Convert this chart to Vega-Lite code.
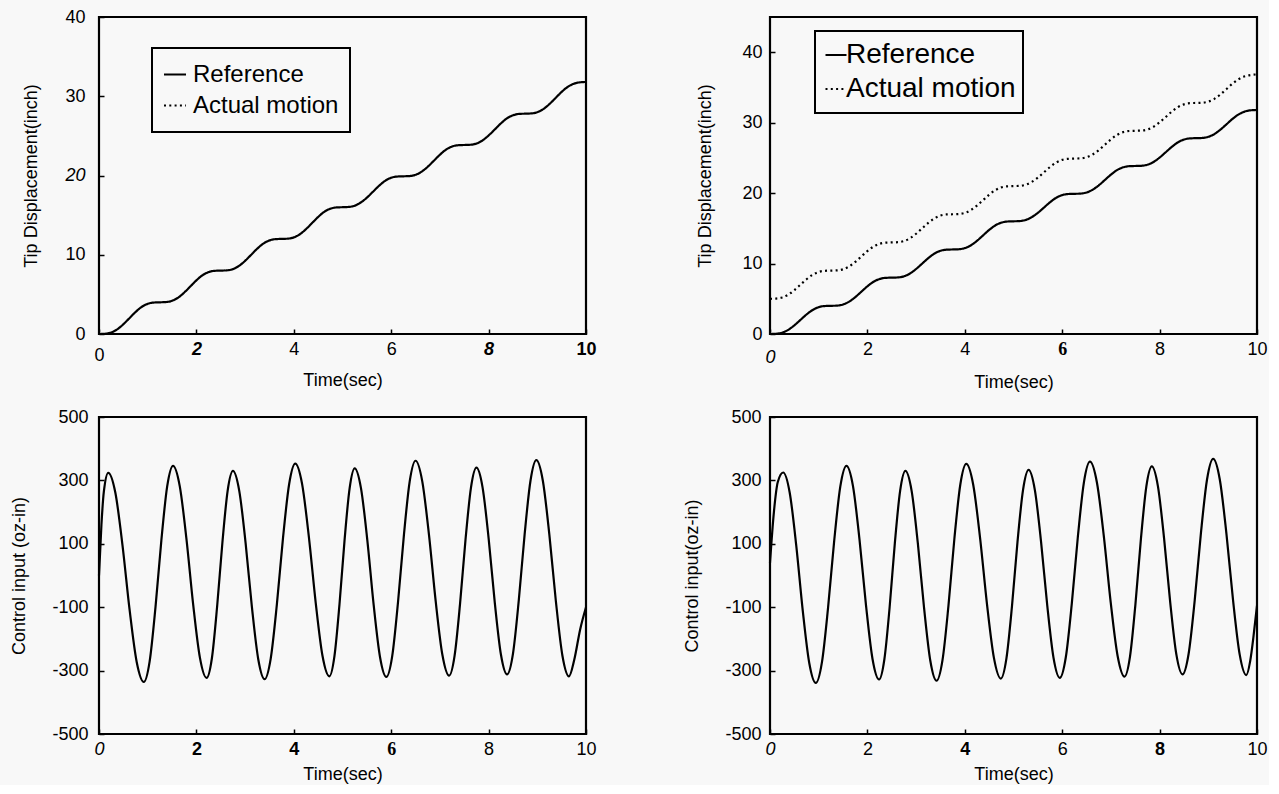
{
  "$schema": "https://vega.github.io/schema/vega-lite/v6.json",
  "background": "#f8f8f8",
  "padding": {"left": 9, "top": 6, "right": 0, "bottom": 0},
  "columns": 2,
  "bounds": "flush",
  "spacing": {"row": 83, "column": 184},
  "datasets": {
    "disp": [
      {"t": 0, "v": 0, "s": "Reference"}, {"t": 0.125, "v": 0.03, "s": "Reference"}, {"t": 0.25, "v": 0.19, "s": "Reference"}, {"t": 0.375, "v": 0.59, "s": "Reference"}, {"t": 0.5, "v": 1.23, "s": "Reference"}, {"t": 0.625, "v": 2.0, "s": "Reference"}, {"t": 0.75, "v": 2.77, "s": "Reference"}, {"t": 0.875, "v": 3.41, "s": "Reference"}, {"t": 1, "v": 3.81, "s": "Reference"}, {"t": 1.125, "v": 3.97, "s": "Reference"},
      {"t": 1.25, "v": 4.0, "s": "Reference"}, {"t": 1.375, "v": 4.03, "s": "Reference"}, {"t": 1.5, "v": 4.19, "s": "Reference"}, {"t": 1.625, "v": 4.59, "s": "Reference"}, {"t": 1.75, "v": 5.23, "s": "Reference"}, {"t": 1.875, "v": 6.0, "s": "Reference"}, {"t": 2, "v": 6.77, "s": "Reference"}, {"t": 2.125, "v": 7.41, "s": "Reference"}, {"t": 2.25, "v": 7.81, "s": "Reference"}, {"t": 2.375, "v": 7.97, "s": "Reference"},
      {"t": 2.5, "v": 8.0, "s": "Reference"}, {"t": 2.625, "v": 8.03, "s": "Reference"}, {"t": 2.75, "v": 8.19, "s": "Reference"}, {"t": 2.875, "v": 8.59, "s": "Reference"}, {"t": 3, "v": 9.23, "s": "Reference"}, {"t": 3.125, "v": 10.0, "s": "Reference"}, {"t": 3.25, "v": 10.77, "s": "Reference"}, {"t": 3.375, "v": 11.41, "s": "Reference"}, {"t": 3.5, "v": 11.81, "s": "Reference"}, {"t": 3.625, "v": 11.97, "s": "Reference"},
      {"t": 3.75, "v": 12.0, "s": "Reference"}, {"t": 3.875, "v": 12.03, "s": "Reference"}, {"t": 4, "v": 12.19, "s": "Reference"}, {"t": 4.125, "v": 12.59, "s": "Reference"}, {"t": 4.25, "v": 13.23, "s": "Reference"}, {"t": 4.375, "v": 14.0, "s": "Reference"}, {"t": 4.5, "v": 14.77, "s": "Reference"}, {"t": 4.625, "v": 15.41, "s": "Reference"}, {"t": 4.75, "v": 15.81, "s": "Reference"}, {"t": 4.875, "v": 15.97, "s": "Reference"},
      {"t": 5, "v": 16.0, "s": "Reference"}, {"t": 5.125, "v": 16.03, "s": "Reference"}, {"t": 5.25, "v": 16.19, "s": "Reference"}, {"t": 5.375, "v": 16.59, "s": "Reference"}, {"t": 5.5, "v": 17.2, "s": "Reference"}, {"t": 5.625, "v": 17.95, "s": "Reference"}, {"t": 5.75, "v": 18.7, "s": "Reference"}, {"t": 5.875, "v": 19.33, "s": "Reference"}, {"t": 6, "v": 19.72, "s": "Reference"}, {"t": 6.125, "v": 19.87, "s": "Reference"},
      {"t": 6.25, "v": 19.9, "s": "Reference"}, {"t": 6.375, "v": 19.93, "s": "Reference"}, {"t": 6.5, "v": 20.09, "s": "Reference"}, {"t": 6.625, "v": 20.48, "s": "Reference"}, {"t": 6.75, "v": 21.1, "s": "Reference"}, {"t": 6.875, "v": 21.86, "s": "Reference"}, {"t": 7, "v": 22.62, "s": "Reference"}, {"t": 7.125, "v": 23.26, "s": "Reference"}, {"t": 7.25, "v": 23.66, "s": "Reference"}, {"t": 7.375, "v": 23.82, "s": "Reference"},
      {"t": 7.5, "v": 23.85, "s": "Reference"}, {"t": 7.625, "v": 23.88, "s": "Reference"}, {"t": 7.75, "v": 24.03, "s": "Reference"}, {"t": 7.875, "v": 24.42, "s": "Reference"}, {"t": 8, "v": 25.05, "s": "Reference"}, {"t": 8.125, "v": 25.8, "s": "Reference"}, {"t": 8.25, "v": 26.56, "s": "Reference"}, {"t": 8.375, "v": 27.2, "s": "Reference"}, {"t": 8.5, "v": 27.6, "s": "Reference"}, {"t": 8.625, "v": 27.77, "s": "Reference"},
      {"t": 8.75, "v": 27.8, "s": "Reference"}, {"t": 8.875, "v": 27.83, "s": "Reference"}, {"t": 9, "v": 27.99, "s": "Reference"}, {"t": 9.125, "v": 28.38, "s": "Reference"}, {"t": 9.25, "v": 29.02, "s": "Reference"}, {"t": 9.375, "v": 29.78, "s": "Reference"}, {"t": 9.5, "v": 30.55, "s": "Reference"}, {"t": 9.625, "v": 31.18, "s": "Reference"}, {"t": 9.75, "v": 31.58, "s": "Reference"}, {"t": 9.875, "v": 31.76, "s": "Reference"},
      {"t": 10, "v": 31.8, "s": "Reference"},
      {"t": 0, "v": 5.0, "s": "Actual motion"}, {"t": 0.125, "v": 5.03, "s": "Actual motion"}, {"t": 0.25, "v": 5.19, "s": "Actual motion"}, {"t": 0.375, "v": 5.59, "s": "Actual motion"}, {"t": 0.5, "v": 6.23, "s": "Actual motion"}, {"t": 0.625, "v": 7.0, "s": "Actual motion"}, {"t": 0.75, "v": 7.77, "s": "Actual motion"}, {"t": 0.875, "v": 8.41, "s": "Actual motion"}, {"t": 1, "v": 8.81, "s": "Actual motion"}, {"t": 1.125, "v": 8.97, "s": "Actual motion"},
      {"t": 1.25, "v": 9.0, "s": "Actual motion"}, {"t": 1.375, "v": 9.03, "s": "Actual motion"}, {"t": 1.5, "v": 9.19, "s": "Actual motion"}, {"t": 1.625, "v": 9.59, "s": "Actual motion"}, {"t": 1.75, "v": 10.23, "s": "Actual motion"}, {"t": 1.875, "v": 11.0, "s": "Actual motion"}, {"t": 2, "v": 11.77, "s": "Actual motion"}, {"t": 2.125, "v": 12.41, "s": "Actual motion"}, {"t": 2.25, "v": 12.81, "s": "Actual motion"}, {"t": 2.375, "v": 12.97, "s": "Actual motion"},
      {"t": 2.5, "v": 13.0, "s": "Actual motion"}, {"t": 2.625, "v": 13.03, "s": "Actual motion"}, {"t": 2.75, "v": 13.19, "s": "Actual motion"}, {"t": 2.875, "v": 13.59, "s": "Actual motion"}, {"t": 3, "v": 14.23, "s": "Actual motion"}, {"t": 3.125, "v": 15.0, "s": "Actual motion"}, {"t": 3.25, "v": 15.77, "s": "Actual motion"}, {"t": 3.375, "v": 16.41, "s": "Actual motion"}, {"t": 3.5, "v": 16.81, "s": "Actual motion"}, {"t": 3.625, "v": 16.97, "s": "Actual motion"},
      {"t": 3.75, "v": 17.0, "s": "Actual motion"}, {"t": 3.875, "v": 17.03, "s": "Actual motion"}, {"t": 4, "v": 17.19, "s": "Actual motion"}, {"t": 4.125, "v": 17.59, "s": "Actual motion"}, {"t": 4.25, "v": 18.23, "s": "Actual motion"}, {"t": 4.375, "v": 19.0, "s": "Actual motion"}, {"t": 4.5, "v": 19.77, "s": "Actual motion"}, {"t": 4.625, "v": 20.41, "s": "Actual motion"}, {"t": 4.75, "v": 20.81, "s": "Actual motion"}, {"t": 4.875, "v": 20.97, "s": "Actual motion"},
      {"t": 5, "v": 21.0, "s": "Actual motion"}, {"t": 5.125, "v": 21.03, "s": "Actual motion"}, {"t": 5.25, "v": 21.19, "s": "Actual motion"}, {"t": 5.375, "v": 21.59, "s": "Actual motion"}, {"t": 5.5, "v": 22.2, "s": "Actual motion"}, {"t": 5.625, "v": 22.95, "s": "Actual motion"}, {"t": 5.75, "v": 23.7, "s": "Actual motion"}, {"t": 5.875, "v": 24.33, "s": "Actual motion"}, {"t": 6, "v": 24.72, "s": "Actual motion"}, {"t": 6.125, "v": 24.87, "s": "Actual motion"},
      {"t": 6.25, "v": 24.9, "s": "Actual motion"}, {"t": 6.375, "v": 24.93, "s": "Actual motion"}, {"t": 6.5, "v": 25.09, "s": "Actual motion"}, {"t": 6.625, "v": 25.48, "s": "Actual motion"}, {"t": 6.75, "v": 26.1, "s": "Actual motion"}, {"t": 6.875, "v": 26.86, "s": "Actual motion"}, {"t": 7, "v": 27.62, "s": "Actual motion"}, {"t": 7.125, "v": 28.26, "s": "Actual motion"}, {"t": 7.25, "v": 28.66, "s": "Actual motion"}, {"t": 7.375, "v": 28.82, "s": "Actual motion"},
      {"t": 7.5, "v": 28.85, "s": "Actual motion"}, {"t": 7.625, "v": 28.88, "s": "Actual motion"}, {"t": 7.75, "v": 29.03, "s": "Actual motion"}, {"t": 7.875, "v": 29.42, "s": "Actual motion"}, {"t": 8, "v": 30.05, "s": "Actual motion"}, {"t": 8.125, "v": 30.8, "s": "Actual motion"}, {"t": 8.25, "v": 31.56, "s": "Actual motion"}, {"t": 8.375, "v": 32.2, "s": "Actual motion"}, {"t": 8.5, "v": 32.6, "s": "Actual motion"}, {"t": 8.625, "v": 32.77, "s": "Actual motion"},
      {"t": 8.75, "v": 32.8, "s": "Actual motion"}, {"t": 8.875, "v": 32.83, "s": "Actual motion"}, {"t": 9, "v": 32.99, "s": "Actual motion"}, {"t": 9.125, "v": 33.38, "s": "Actual motion"}, {"t": 9.25, "v": 34.02, "s": "Actual motion"}, {"t": 9.375, "v": 34.78, "s": "Actual motion"}, {"t": 9.5, "v": 35.55, "s": "Actual motion"}, {"t": 9.625, "v": 36.18, "s": "Actual motion"}, {"t": 9.75, "v": 36.58, "s": "Actual motion"}, {"t": 9.875, "v": 36.76, "s": "Actual motion"},
      {"t": 10, "v": 36.85, "s": "Actual motion"}
    ],
    "ctrl1": [
      {"t": 0, "u": 0}, {"t": 0.05, "u": 160}, {"t": 0.1, "u": 265}, {"t": 0.19, "u": 324},
      {"t": 0.336, "u": 261}, {"t": 0.482, "u": 96}, {"t": 0.628, "u": -108}, {"t": 0.774, "u": -273}, {"t": 0.92, "u": -336},
      {"t": 1.04, "u": -271}, {"t": 1.16, "u": -100}, {"t": 1.28, "u": 110}, {"t": 1.4, "u": 281}, {"t": 1.52, "u": 346},
      {"t": 1.658, "u": 282}, {"t": 1.796, "u": 115}, {"t": 1.934, "u": -92}, {"t": 2.072, "u": -259}, {"t": 2.21, "u": -323},
      {"t": 2.318, "u": -261}, {"t": 2.426, "u": -97}, {"t": 2.534, "u": 104}, {"t": 2.642, "u": 268}, {"t": 2.75, "u": 330},
      {"t": 2.88, "u": 267}, {"t": 3.01, "u": 103}, {"t": 3.14, "u": -100}, {"t": 3.27, "u": -264}, {"t": 3.4, "u": -327},
      {"t": 3.526, "u": -262}, {"t": 3.652, "u": -92}, {"t": 3.778, "u": 118}, {"t": 3.904, "u": 288}, {"t": 4.03, "u": 353},
      {"t": 4.17, "u": 289}, {"t": 4.31, "u": 121}, {"t": 4.45, "u": -86}, {"t": 4.59, "u": -254}, {"t": 4.73, "u": -318},
      {"t": 4.834, "u": -255}, {"t": 4.938, "u": -91}, {"t": 5.042, "u": 111}, {"t": 5.146, "u": 275}, {"t": 5.25, "u": 338},
      {"t": 5.38, "u": 275}, {"t": 5.51, "u": 111}, {"t": 5.64, "u": -93}, {"t": 5.77, "u": -257}, {"t": 5.9, "u": -320},
      {"t": 6.02, "u": -255}, {"t": 6.14, "u": -84}, {"t": 6.26, "u": 126}, {"t": 6.38, "u": 297}, {"t": 6.5, "u": 362},
      {"t": 6.638, "u": 297}, {"t": 6.776, "u": 128}, {"t": 6.914, "u": -82}, {"t": 7.052, "u": -251}, {"t": 7.19, "u": -316},
      {"t": 7.302, "u": -253}, {"t": 7.414, "u": -89}, {"t": 7.526, "u": 113}, {"t": 7.638, "u": 277}, {"t": 7.75, "u": 340},
      {"t": 7.876, "u": 278}, {"t": 8.002, "u": 115}, {"t": 8.128, "u": -87}, {"t": 8.254, "u": -250}, {"t": 8.38, "u": -312},
      {"t": 8.5, "u": -247}, {"t": 8.62, "u": -78}, {"t": 8.74, "u": 130}, {"t": 8.86, "u": 299}, {"t": 8.98, "u": 364},
      {"t": 9.114, "u": 299}, {"t": 9.248, "u": 128}, {"t": 9.382, "u": -82}, {"t": 9.516, "u": -253}, {"t": 9.65, "u": -318},
      {"t": 9.76, "u": -265}, {"t": 9.88, "u": -170}, {"t": 10, "u": -100}
    ],
    "ctrl2": [
      {"t": 0, "u": 40}, {"t": 0.08, "u": 200}, {"t": 0.16, "u": 295}, {"t": 0.27, "u": 325},
      {"t": 0.404, "u": 262}, {"t": 0.538, "u": 96}, {"t": 0.672, "u": -110}, {"t": 0.806, "u": -276}, {"t": 0.94, "u": -339},
      {"t": 1.066, "u": -274}, {"t": 1.192, "u": -102}, {"t": 1.318, "u": 109}, {"t": 1.444, "u": 281}, {"t": 1.57, "u": 346},
      {"t": 1.704, "u": 282}, {"t": 1.838, "u": 113}, {"t": 1.972, "u": -95}, {"t": 2.106, "u": -264}, {"t": 2.24, "u": -328},
      {"t": 2.348, "u": -265}, {"t": 2.456, "u": -101}, {"t": 2.564, "u": 103}, {"t": 2.672, "u": 267}, {"t": 2.78, "u": 330},
      {"t": 2.908, "u": 267}, {"t": 3.036, "u": 101}, {"t": 3.164, "u": -103}, {"t": 3.292, "u": -269}, {"t": 3.42, "u": -332},
      {"t": 3.542, "u": -267}, {"t": 3.664, "u": -96}, {"t": 3.786, "u": 116}, {"t": 3.908, "u": 287}, {"t": 4.03, "u": 352},
      {"t": 4.172, "u": 287}, {"t": 4.314, "u": 118}, {"t": 4.456, "u": -91}, {"t": 4.598, "u": -260}, {"t": 4.74, "u": -325},
      {"t": 4.854, "u": -262}, {"t": 4.968, "u": -98}, {"t": 5.082, "u": 106}, {"t": 5.196, "u": 270}, {"t": 5.31, "u": 333},
      {"t": 5.438, "u": 270}, {"t": 5.566, "u": 106}, {"t": 5.694, "u": -96}, {"t": 5.822, "u": -260}, {"t": 5.95, "u": -323},
      {"t": 6.074, "u": -258}, {"t": 6.198, "u": -87}, {"t": 6.322, "u": 123}, {"t": 6.446, "u": 294}, {"t": 6.57, "u": 359},
      {"t": 6.712, "u": 294}, {"t": 6.854, "u": 125}, {"t": 6.996, "u": -85}, {"t": 7.138, "u": -254}, {"t": 7.28, "u": -319},
      {"t": 7.392, "u": -256}, {"t": 7.504, "u": -90}, {"t": 7.616, "u": 115}, {"t": 7.728, "u": 281}, {"t": 7.84, "u": 344},
      {"t": 7.966, "u": 281}, {"t": 8.092, "u": 117}, {"t": 8.218, "u": -85}, {"t": 8.344, "u": -249}, {"t": 8.47, "u": -312},
      {"t": 8.596, "u": -247}, {"t": 8.722, "u": -77}, {"t": 8.848, "u": 133}, {"t": 8.974, "u": 303}, {"t": 9.1, "u": 368},
      {"t": 9.236, "u": 303}, {"t": 9.372, "u": 132}, {"t": 9.508, "u": -78}, {"t": 9.644, "u": -249}, {"t": 9.78, "u": -314},
      {"t": 9.86, "u": -270}, {"t": 9.93, "u": -190}, {"t": 10, "u": -95}
    ]
  },
  "concat": [
    {
      "width": 487, "height": 317,
      "data": {"name": "disp"},
      "transform": [{"filter": "datum.s == 'Reference'"}],
      "mark": {"type": "line", "interpolate": "monotone", "color": "black", "strokeWidth": 2.2},
      "encoding": {
        "x": {"field": "t", "type": "quantitative", "scale": {"domain": [0, 10], "nice": false},
          "axis": {"title": "Time(sec)", "values": [0, 2, 4, 6, 8, 10],
            "labelFontWeight": {"condition": {"test": "datum.value == 2 || datum.value == 8 || datum.value == 10", "value": "bold"}, "value": "normal"},
            "labelFontStyle": {"condition": {"test": "datum.value == 2 || datum.value == 8", "value": "italic"}, "value": "normal"},
            "labelPadding": {"condition": {"test": "datum.value == 0", "value": 17}, "value": 11}}},
        "y": {"field": "v", "type": "quantitative", "scale": {"domain": [0, 40], "nice": false},
          "axis": {"title": "Tip Displacement(inch)", "values": [0, 10, 20, 30, 40], "labelPadding": 19, "titlePadding": 24,
            "labelFontStyle": {"condition": {"test": "datum.value == 20", "value": "italic"}, "value": "normal"}}},
        "strokeDash": {"field": "s", "type": "nominal",
          "scale": {"domain": ["Reference", "Actual motion"], "range": [[1, 0], [2, 3.3]]},
          "legend": {"title": null, "orient": "none", "legendX": 53, "legendY": 31, "strokeColor": "black", "padding": 11,
            "labelFontSize": 24, "labelOffset": 6, "labelColor": "black", "labelLimit": 400, "symbolType": "stroke", "symbolSize": 484,
            "symbolStrokeWidth": 2, "symbolStrokeColor": "black", "clipHeight": 31, "rowPadding": 0,
            "encode": {"legend": {"update": {"strokeWidth": {"value": 2}}}}}}
      }
    },
    {
      "width": 487, "height": 317,
      "data": {"name": "disp"},
      "mark": {"type": "line", "interpolate": "monotone", "color": "black", "strokeWidth": 2.2},
      "encoding": {
        "x": {"field": "t", "type": "quantitative", "scale": {"domain": [0, 10], "nice": false},
          "axis": {"title": "Time(sec)", "values": [0, 2, 4, 6, 8, 10],
            "labelFontWeight": {"condition": {"test": "datum.value == 6", "value": "bold"}, "value": "normal"},
            "labelFont": {"condition": {"test": "datum.value == 6", "value": "Liberation Serif"}, "value": "Liberation Sans"},
            "labelFontStyle": {"condition": {"test": "datum.value == 0", "value": "italic"}, "value": "normal"},
            "labelPadding": {"condition": {"test": "datum.value == 0", "value": 19}, "value": 11}}},
        "y": {"field": "v", "type": "quantitative", "scale": {"domain": [0, 45], "nice": false},
          "axis": {"title": "Tip Displacement(inch)", "values": [0, 10, 20, 30, 40], "labelPadding": 13, "titlePadding": 27}},
        "strokeDash": {"field": "s", "type": "nominal",
          "scale": {"domain": ["Reference", "Actual motion"], "range": [[1, 0], [2, 3.3]]},
          "legend": {"title": null, "orient": "none", "legendX": 45, "legendY": 14, "strokeColor": "black", "padding": 7,
            "labelFontSize": 28, "labelOffset": -4, "labelColor": "black", "labelLimit": 400, "symbolType": "stroke", "symbolSize": 441,
            "symbolStrokeWidth": 2, "symbolStrokeColor": "black", "clipHeight": 34, "rowPadding": 0,
            "encode": {"legend": {"update": {"strokeWidth": {"value": 2}}}}}}
      }
    },
    {
      "width": 487, "height": 317,
      "data": {"name": "ctrl1"},
      "mark": {"type": "line", "interpolate": "monotone", "color": "black", "strokeWidth": 2.2},
      "encoding": {
        "x": {"field": "t", "type": "quantitative", "scale": {"domain": [0, 10], "nice": false},
          "axis": {"title": "Time(sec)", "values": [0, 2, 4, 6, 8, 10],
            "labelFontWeight": {"condition": {"test": "datum.value == 2 || datum.value == 4 || datum.value == 6", "value": "bold"}, "value": "normal"},
            "labelFont": {"condition": {"test": "datum.value == 6", "value": "Liberation Serif"}, "value": "Liberation Sans"},
            "labelFontStyle": {"condition": {"test": "datum.value == 0", "value": "italic"}, "value": "normal"},
            "labelPadding": 11}},
        "y": {"field": "u", "type": "quantitative", "scale": {"domain": [-500, 500], "nice": false},
          "axis": {"title": "Control input (oz-in)", "values": [-500, -300, -100, 100, 300, 500], "labelPadding": 16, "titlePadding": 23,
            "labelExpr": "datum.value < 0 ? '-' + (-datum.value) : '' + datum.value"}}
      }
    },
    {
      "width": 487, "height": 317,
      "data": {"name": "ctrl2"},
      "mark": {"type": "line", "interpolate": "monotone", "color": "black", "strokeWidth": 2.2},
      "encoding": {
        "x": {"field": "t", "type": "quantitative", "scale": {"domain": [0, 10], "nice": false},
          "axis": {"title": "Time(sec)", "values": [0, 2, 4, 6, 8, 10],
            "labelFontWeight": {"condition": {"test": "datum.value == 4 || datum.value == 8", "value": "bold"}, "value": "normal"},
            "labelFontStyle": {"condition": {"test": "datum.value == 0", "value": "italic"}, "value": "normal"},
            "labelPadding": 11}},
        "y": {"field": "u", "type": "quantitative", "scale": {"domain": [-500, 500], "nice": false},
          "axis": {"title": "Control input(oz-in)", "values": [-500, -300, -100, 100, 300, 500], "labelPadding": 14, "titlePadding": 23,
            "labelExpr": "datum.value < 0 ? '-' + (-datum.value) : '' + datum.value"}}
      }
    }
  ],
  "resolve": {
    "scale": {"x": "independent", "y": "independent", "strokeDash": "independent"},
    "legend": {"strokeDash": "independent"}
  },
  "config": {
    "font": "Liberation Sans",
    "view": {"stroke": "black", "strokeWidth": 2.2},
    "axis": {
      "domain": false, "grid": false, "ticks": true, "tickSize": -5, "tickColor": "black", "tickWidth": 1.5,
      "labelFontSize": 18, "labelColor": "black", "labelFont": "Liberation Sans",
      "titleFontSize": 18, "titleFontWeight": "normal", "titleColor": "black", "titleFont": "Liberation Sans",
      "labelFlush": false, "labelOverlap": false
    },
    "axisX": {"titlePadding": 7},
    "legend": {"labelFont": "Liberation Sans"}
  }
}
